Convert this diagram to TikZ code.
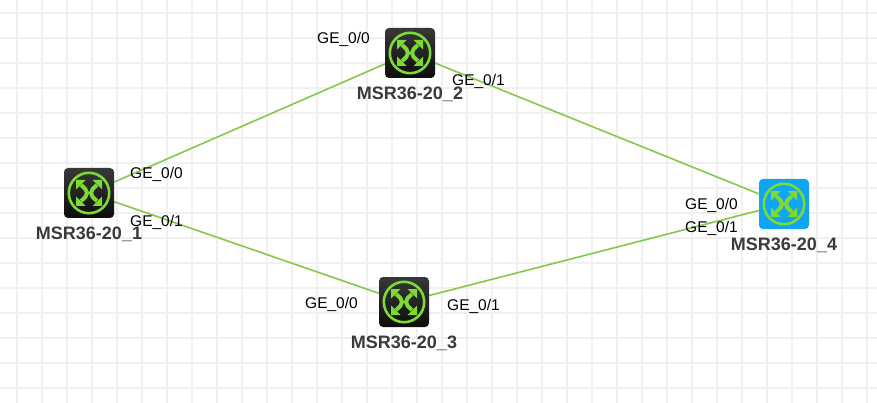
\documentclass[tikz,border=0pt]{standalone}
\usepackage{fontspec}
\setmainfont{Liberation Sans}
\usetikzlibrary{positioning, backgrounds}
\definecolor{linkgreen}{HTML}{84C94A}
\definecolor{ringgreen}{HTML}{7ED934}
\definecolor{iconblue}{HTML}{0EA5F2}
\definecolor{labelgray}{HTML}{3A3A3A}
\definecolor{gridgray}{HTML}{F0F0F0}
\newcommand{\routerglyph}{%
  \begin{scope}[shift={(path picture bounding box.center)}, ringgreen, sharp corners]
    \draw[line width=2.6pt] (0,0) circle[radius=20.2pt];
    \draw[line width=4pt] (-8,-8) .. controls (0,-1.5) and (0,1.5) .. (-8,8);
    \draw[line width=4pt] (8,-8) .. controls (0,-1.5) and (0,1.5) .. (8,8);
    \fill (-13,-13) -- (-3.5,-13) -- (-13,-3.5) -- cycle;
    \fill (13,-13) -- (3.5,-13) -- (13,-3.5) -- cycle;
    \fill (-13,13) -- (-3.5,13) -- (-13,3.5) -- cycle;
    \fill (13,13) -- (3.5,13) -- (13,3.5) -- cycle;
  \end{scope}}

\begin{document}
\begin{tikzpicture}[x=1pt, y=-1pt,
    router/.style={rectangle, rounded corners=4pt, minimum size=50pt, inner sep=0pt, top color=black!78, bottom color=black!95, path picture=\routerglyph},
    bluerouter/.style={router, top color=iconblue, bottom color=iconblue},
    devlabel/.style={font=\bfseries\fontsize{18}{20}\selectfont, text=labelgray, inner sep=0pt},
    port/.style={font=\fontsize{15.5}{18}\selectfont, anchor=base west, inner sep=0pt},
    link/.style={draw=linkgreen, line width=1.6pt},
    gridline/.style={draw=gridgray, line width=2pt}]
    \useasboundingbox (0,0) rectangle (877,403);
    \node[router] (R1) at (89,193) {};
    \node[router] (R2) at (410,53) {};
    \node[router] (R3) at (404,302) {};
    \node[bluerouter] (R4) at (784,204) {};
    \node[devlabel, below=8.5pt of R1] (L1) {MSR36-20\_1};
    \node[devlabel, below=8.5pt of R2] (L2) {MSR36-20\_2};
    \node[devlabel, below=8.5pt of R3] (L3) {MSR36-20\_3};
    \node[devlabel, below=8.5pt of R4] (L4) {MSR36-20\_4};
    \node[port] (P10) at (130,179) {GE\_0/0};
    \node[port] (P11) at (130,226) {GE\_0/1};
    \node[port] (P20) at (317,44) {GE\_0/0};
    \node[port] (P21) at (452,86) {GE\_0/1};
    \node[port] (P30) at (305,308) {GE\_0/0};
    \node[port] (P31) at (447,310) {GE\_0/1};
    \node[port] (P40) at (685,210) {GE\_0/0};
    \node[port] (P41) at (685,233) {GE\_0/1};
    \begin{pgfonlayer}{background}
        \fill[white] (0,0) rectangle (877,403);
        \foreach \x in {17,42,...,867} \draw[gridline] (\x,0) -- (\x,403);
        \foreach \y in {13,38,...,388} \draw[gridline] (0,\y) -- (877,\y);
        \draw[link] (R1) -- (R2);
        \draw[link] (R1) -- (R3);
        \draw[link] (R2) -- (R4);
        \draw[link] (R3) -- (R4);
    \end{pgfonlayer}
\end{tikzpicture}
\end{document}
